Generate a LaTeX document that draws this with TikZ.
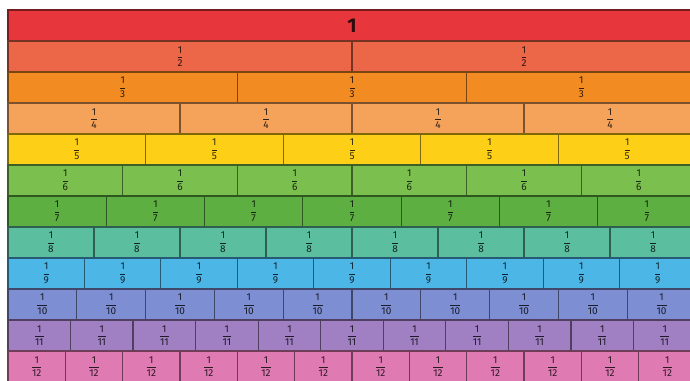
\documentclass[tikz,border=0pt]{standalone}
\usepackage{amsmath}
\usepackage{fontspec}
\setmainfont{Fira Sans}
\definecolor{r1}{HTML}{E8373C}
\definecolor{r2}{HTML}{EC6648}
\definecolor{r3}{HTML}{F28B22}
\definecolor{r4}{HTML}{F5A35B}
\definecolor{r5}{HTML}{FDD017}
\definecolor{r6}{HTML}{7BC04F}
\definecolor{r7}{HTML}{5DAF41}
\definecolor{r8}{HTML}{5BBE9E}
\definecolor{r9}{HTML}{4CB6E6}
\definecolor{r10}{HTML}{7E8ED3}
\definecolor{r11}{HTML}{A07FC3}
\definecolor{r12}{HTML}{E07AB3}
\begin{document}
\begin{tikzpicture}[x=1pt,y=-1pt,
  cell/.style={draw=#1!50!black, fill=#1, line width=1.2pt, minimum height=31pt,
    inner sep=0pt, outer sep=0pt, text=#1!20!black, font=\fontsize{10}{10}\selectfont}]
\fill[white] (0,0) rectangle (690,380);
\useasboundingbox (0,0) rectangle (690,380);
\clip (0,0) rectangle (690,380);
\foreach \n in {1,...,12} {
  \pgfmathsetmacro\w{688/\n}
  \pgfmathtruncatemacro\last{\n-1}
  \foreach \k in {0,...,\last} {
    \node[cell=r\n, minimum width=\w pt] (c-\n-\k) at ({8+(\k+0.5)*\w}, {10+(\n-0.5)*31})
      {\ifnum\n=1 {\fontsize{20}{20}\selectfont\bfseries 1}\else $\dfrac{\mbox{1}}{\mbox{\n}}$\fi};
  }
}
\end{tikzpicture}
\end{document}
